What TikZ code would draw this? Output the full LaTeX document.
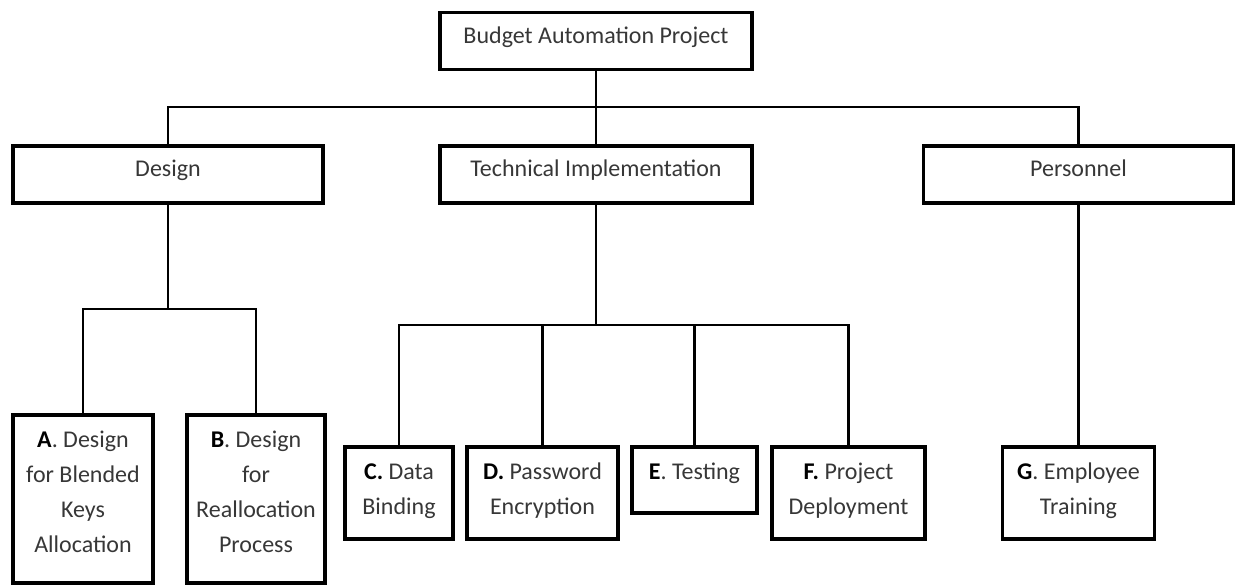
\documentclass[tikz,border=0pt]{standalone}
\usepackage{fontspec}
\setmainfont{Carlito}
\definecolor{txtgray}{RGB}{55,55,55}
\newcommand\leafbox[3]{\parbox[c][#2][t]{#1}{\centering\rule{0pt}{32.7pt}#3}}
\newcommand\lab[1]{\textcolor{black}{\textbf{#1}}}
\begin{document}
\begin{tikzpicture}[x=1pt,y=-1pt,
  box/.style={draw=black, line width=3.8pt, inner sep=0pt, outer sep=0pt, text=txtgray, font=\fontsize{24}{35}\selectfont},
  topbox/.style={box, minimum width=#1, minimum height=57pt, text height=16pt, text depth=11.4pt},
  conn/.style={draw=black, line width=2.6pt, line join=miter}]
\useasboundingbox (0,0) rectangle (1235,586);
% level 0 and 1
\node[topbox=312pt] (root) at (596,41) {Budget Automation Project};
\node[topbox=310pt] (design) at (168,174.5) {Design};
\node[topbox=312pt] (tech) at (596,174.5) {Technical Implementation};
\node[topbox=310pt] (pers) at (1078.5,174.5) {Personnel};
% leaves
\node[box] (A) at (83,499) {\leafbox{140pt}{168pt}{\lab{A}. Design\\for Blended\\Keys\\Allocation}};
\node[box] (B) at (256,499) {\leafbox{138pt}{168pt}{\lab{B}. Design\\for\\Reallocation\\Process}};
\node[box] (C) at (399,493) {\leafbox{108pt}{92pt}{\lab{C.} Data\\Binding}};
\node[box] (D) at (542.5,493) {\leafbox{151pt}{92pt}{\lab{D.} Password\\Encryption}};
\node[box] (E) at (694.5,480) {\leafbox{125pt}{66pt}{\lab{E}. Testing}};
\node[box] (F) at (848.5,493) {\leafbox{153pt}{92pt}{\lab{F.} Project\\Deployment}};
\node[box] (G) at (1078.5,493) {\leafbox{152pt}{92pt}{\lab{G}. Employee\\Training}};
% connectors
\coordinate (bar0) at (0,107);
\coordinate (bar1) at (0,309);
\coordinate (bar2) at (0,325);
\draw[conn] (root.south) -- (tech.north);
\draw[conn] (design.north) -- (design.north |- bar0) -- (pers.north |- bar0) -- (pers.north);
\draw[conn] (design.south) -- (design.south |- bar1);
\draw[conn] (A.north) -- (A.north |- bar1) -- (B.north |- bar1) -- (B.north);
\draw[conn] (tech.south) -- (tech.south |- bar2);
\draw[conn] (C.north) -- (C.north |- bar2) -- (F.north |- bar2) -- (F.north);
\draw[conn] (D.north) -- (D.north |- bar2);
\draw[conn] (E.north) -- (E.north |- bar2);
\draw[conn] (pers.south) -- (G.north);
\end{tikzpicture}
\end{document}
